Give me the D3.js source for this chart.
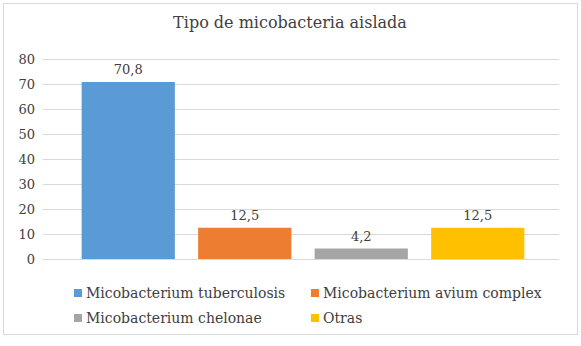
<!DOCTYPE html>
<html>
<head>
  <meta charset='utf-8'>
  <script src="https://cdn.jsdelivr.net/npm/d3@7/dist/d3.min.js"></script>
  <style>
    body { margin: 0; background: #fff; }
    text { font-family: "DejaVu Serif", "Liberation Serif", serif; fill: #404040; }
  </style>
</head>
<body>
  <script>
    let categories = ['Micobacterium tuberculosis', 'Micobacterium avium complex', 'Micobacterium chelonae', 'Otras']
    let values = [70.8, 12.5, 4.2, 12.5]
    let labels = ['70,8', '12,5', '4,2', '12,5']
    let colors = ['#5b9bd5', '#ed7d31', '#a5a5a5', '#ffc000']
    let ticks = [0, 10, 20, 30, 40, 50, 60, 70, 80]

    let w = 581
    let h = 346

    let svg = d3.select('body')
      .append('svg')
      .attr('width', w)
      .attr('height', h)

    // frame
    svg.append('rect')
      .attr('x', 3.5).attr('y', 3.5)
      .attr('width', 574).attr('height', 331)
      .attr('fill', '#fff')
      .attr('stroke', '#d9d9d9')

    svg.append('text')
      .attr('x', 290).attr('y', 28)
      .attr('text-anchor', 'middle')
      .style('font-size', '16px')
      .text('Tipo de micobacteria aislada')

    let xScale = d3.scaleBand()
      .domain(d3.range(categories.length))
      .range([70, 536])
      .paddingInner(0.2)
      .paddingOuter(0.1)

    let yScale = d3.scaleLinear()
      .domain([0, 80])
      .range([259, 59])

    // gridlines
    svg.append('g')
      .selectAll('line')
      .data(ticks)
      .join('line')
      .attr('x1', 43).attr('x2', 559)
      .attr('y1', d => Math.round(yScale(d)) + 0.5)
      .attr('y2', d => Math.round(yScale(d)) + 0.5)
      .attr('stroke', '#d9d9d9')

    let yAxis = d3.axisLeft(yScale).tickValues(ticks).tickSize(0).tickPadding(0)
    svg.append('g')
      .attr('transform', 'translate(35,0)')
      .call(yAxis)
      .call(g => g.select('.domain').remove())
      .selectAll('text')
      .style('font-size', '13px')
      .style('font-family', '"DejaVu Serif", serif')
      .attr('fill', '#404040')

    svg.append('g')
      .selectAll('rect')
      .data(values)
      .join('rect')
      .attr('x', (d, i) => xScale(i))
      .attr('width', xScale.bandwidth())
      .attr('y', d => yScale(d))
      .attr('height', d => yScale(0) - yScale(d))
      .attr('fill', (d, i) => colors[i])

    svg.append('g')
      .selectAll('text')
      .data(values)
      .join('text')
      .attr('x', (d, i) => xScale(i) + xScale.bandwidth() / 2)
      .attr('y', d => yScale(d) - 8)
      .attr('text-anchor', 'middle')
      .style('font-size', '13px')
      .text((d, i) => labels[i])

    // legend
    let legendPos = [[74, 293], [311, 293], [74, 318], [311, 318]]
    let legend = svg.append('g')
      .selectAll('g')
      .data(categories)
      .join('g')
      .attr('transform', (d, i) => 'translate(' + legendPos[i][0] + ',' + legendPos[i][1] + ')')
    legend.append('rect')
      .attr('x', 0).attr('y', -4)
      .attr('width', 8).attr('height', 8)
      .attr('fill', (d, i) => colors[i])
    legend.append('text')
      .attr('x', 12).attr('y', 5)
      .style('font-size', '14px')
      .text(d => d)
  </script>
</body>
</html>
